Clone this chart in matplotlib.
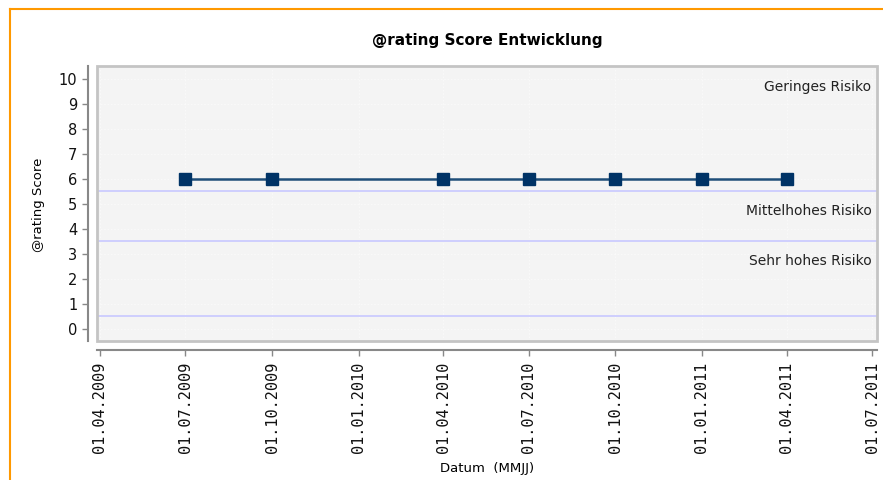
import matplotlib
matplotlib.use("Agg")
import matplotlib.pyplot as plt
import matplotlib.dates as mdates
from matplotlib.patches import Rectangle
from matplotlib.lines import Line2D
import datetime as dt

# Data
dates = ["2009-07-01", "2009-10-01", "2010-04-01", "2010-07-01",
         "2010-10-01", "2011-01-01", "2011-04-01"]
scores = [6, 6, 6, 6, 6, 6, 6]
tick_dates = ["2009-04-01", "2009-07-01", "2009-10-01", "2010-01-01", "2010-04-01",
              "2010-07-01", "2010-10-01", "2011-01-01", "2011-04-01", "2011-07-01"]
zone_bounds = [5.5, 3.5, 0.5]
zone_labels = ["Geringes Risiko", "Mittelhohes Risiko", "Sehr hohes Risiko"]
zone_tops = [10.5, 5.5, 3.5]
title = "@rating Score Entwicklung"
xlabel = "Datum  (MMJJ)"
ylabel = "@rating Score"

to_dt = lambda s: dt.datetime.strptime(s, "%Y-%m-%d")
x = [to_dt(d) for d in dates]
xt = [to_dt(d) for d in tick_dates]

fig = plt.figure(figsize=(8.83, 4.81), dpi=100)
ax = fig.add_axes([97/883, 139/481, 780/883, 275/481])
ax.set_facecolor("#f4f4f4")

ax.set_xlim(to_dt("2009-03-29"), to_dt("2011-07-06"))
ax.set_ylim(-0.5, 10.5)

# faint grid
for t in xt:
    ax.axvline(t, color="white", lw=0.6, ls=(0, (2, 2)), alpha=0.6, zorder=1)
for v in range(0, 11):
    ax.axhline(v, color="white", lw=0.6, ls=(0, (2, 2)), alpha=0.6, zorder=1)

for b in zone_bounds:
    ax.axhline(b, color="#c8c8ff", lw=1.2, zorder=2)
for lab, top in zip(zone_labels, zone_tops):
    ax.annotate(lab, xy=(1, top), xycoords=("axes fraction", "data"),
                xytext=(-4, -9), textcoords="offset points",
                ha="right", va="top", fontsize=10, color="#222222")

ax.plot(x, scores, color="#1f4e79", lw=1.8, marker="s", markersize=9,
        markerfacecolor="#003366", markeredgecolor="#003366", zorder=5)

# plot border
ax.add_patch(Rectangle((0, 0), 1, 1, transform=ax.transAxes, fill=False,
                       edgecolor="#c4c4c4", lw=2, zorder=6, clip_on=False))
for s in ["top", "right"]:
    ax.spines[s].set_visible(False)
for s in ["left", "bottom"]:
    ax.spines[s].set_position(("outward", 6.5))
    ax.spines[s].set_color("#888888")
    ax.spines[s].set_linewidth(1.5)

ax.set_yticks(range(0, 11))
ax.set_xticks(xt)
ax.set_xticklabels([t.strftime("%d.%m.%Y") for t in xt], rotation=90,
                   fontsize=11, family="DejaVu Sans Mono")
ax.tick_params(axis="both", colors="#888888", labelcolor="#111111", length=4, width=1)
ax.tick_params(axis="y", labelsize=10.5)

ax.set_title(title, fontsize=11, fontweight="bold", pad=16)
ax.set_xlabel(xlabel, fontsize=9.5, labelpad=7)
ax.set_ylabel(ylabel, fontsize=9.5, labelpad=10)

# orange frame
fig.add_artist(Line2D([10/883, 1], [1 - 10/481, 1 - 10/481], transform=fig.transFigure,
                      color="#ff9900", lw=1.5))
fig.add_artist(Line2D([10/883, 10/883], [0, 1 - 10/481], transform=fig.transFigure,
                      color="#ff9900", lw=1.5))

fig.savefig("out.png", dpi=100)
